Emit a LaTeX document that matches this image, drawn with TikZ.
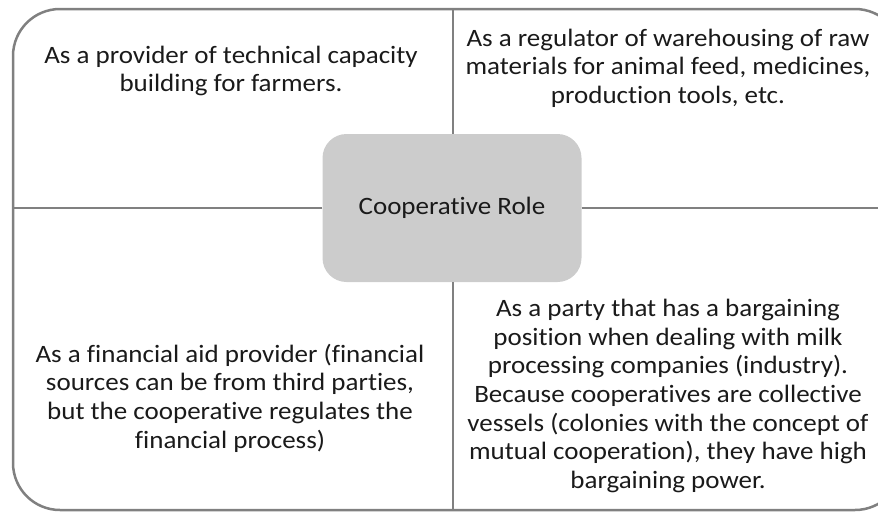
\documentclass[tikz,border=0pt]{standalone}
\usepackage{fontspec}
\setmainfont{Carlito}[Ligatures=NoCommon, FakeStretch=1.08]

\definecolor{framegray}{HTML}{808080}
\definecolor{boxgray}{HTML}{CCCCCC}
\definecolor{textdark}{HTML}{1A1A1A}

\tikzset{
	frame/.style={draw=framegray, line width=2.5pt},
	rolebox/.style={fill=boxgray, rounded corners=24pt, minimum width=259pt, minimum height=148pt, inner sep=0pt},
	roletext/.style={align=center, text=textdark, font=\fontsize{25}{28.6}\selectfont},
}

\begin{document}
\begin{tikzpicture}[x=1pt,y=-1pt]
	\clip (0,0) rectangle (878,512);

	% Outer frame, runs off on the right
	\draw[frame, rounded corners=47pt] (13,9) rectangle (902,510);

	% Centre box
	\node[rolebox, roletext] (role) at (452,208) {Cooperative Role};

	% Dividers from the box out to the frame
	\coordinate (top) at (453,9);
	\coordinate (bottom) at (453,510);
	\coordinate (left) at (13,208);
	\coordinate (right) at (902,208);
	\draw[frame] (role.north -| top) -- (top);
	\draw[frame] (role.south -| bottom) -- (bottom);
	\draw[frame] (role.west) -- (left);
	\draw[frame] (role.east) -- (right);

	% The four roles
	\node[roletext] (technical) at (231,71) {As a provider of technical capacity\\building for farmers.};
	\node[roletext] (warehouse) at (668,68) {As a regulator of warehousing of raw\\materials for animal feed, medicines,\\production tools, etc.};
	\node[roletext] (finance) at (230,398) {As a financial aid provider (financial\\sources can be from third parties,\\but the cooperative regulates the\\financial process)};
	\node[roletext] (bargain) at (668,396) {As a party that has a bargaining\\position when dealing with milk\\processing companies (industry).\\Because cooperatives are collective\\vessels (colonies with the concept of\\mutual cooperation), they have high\\bargaining power.};
\end{tikzpicture}
\end{document}
